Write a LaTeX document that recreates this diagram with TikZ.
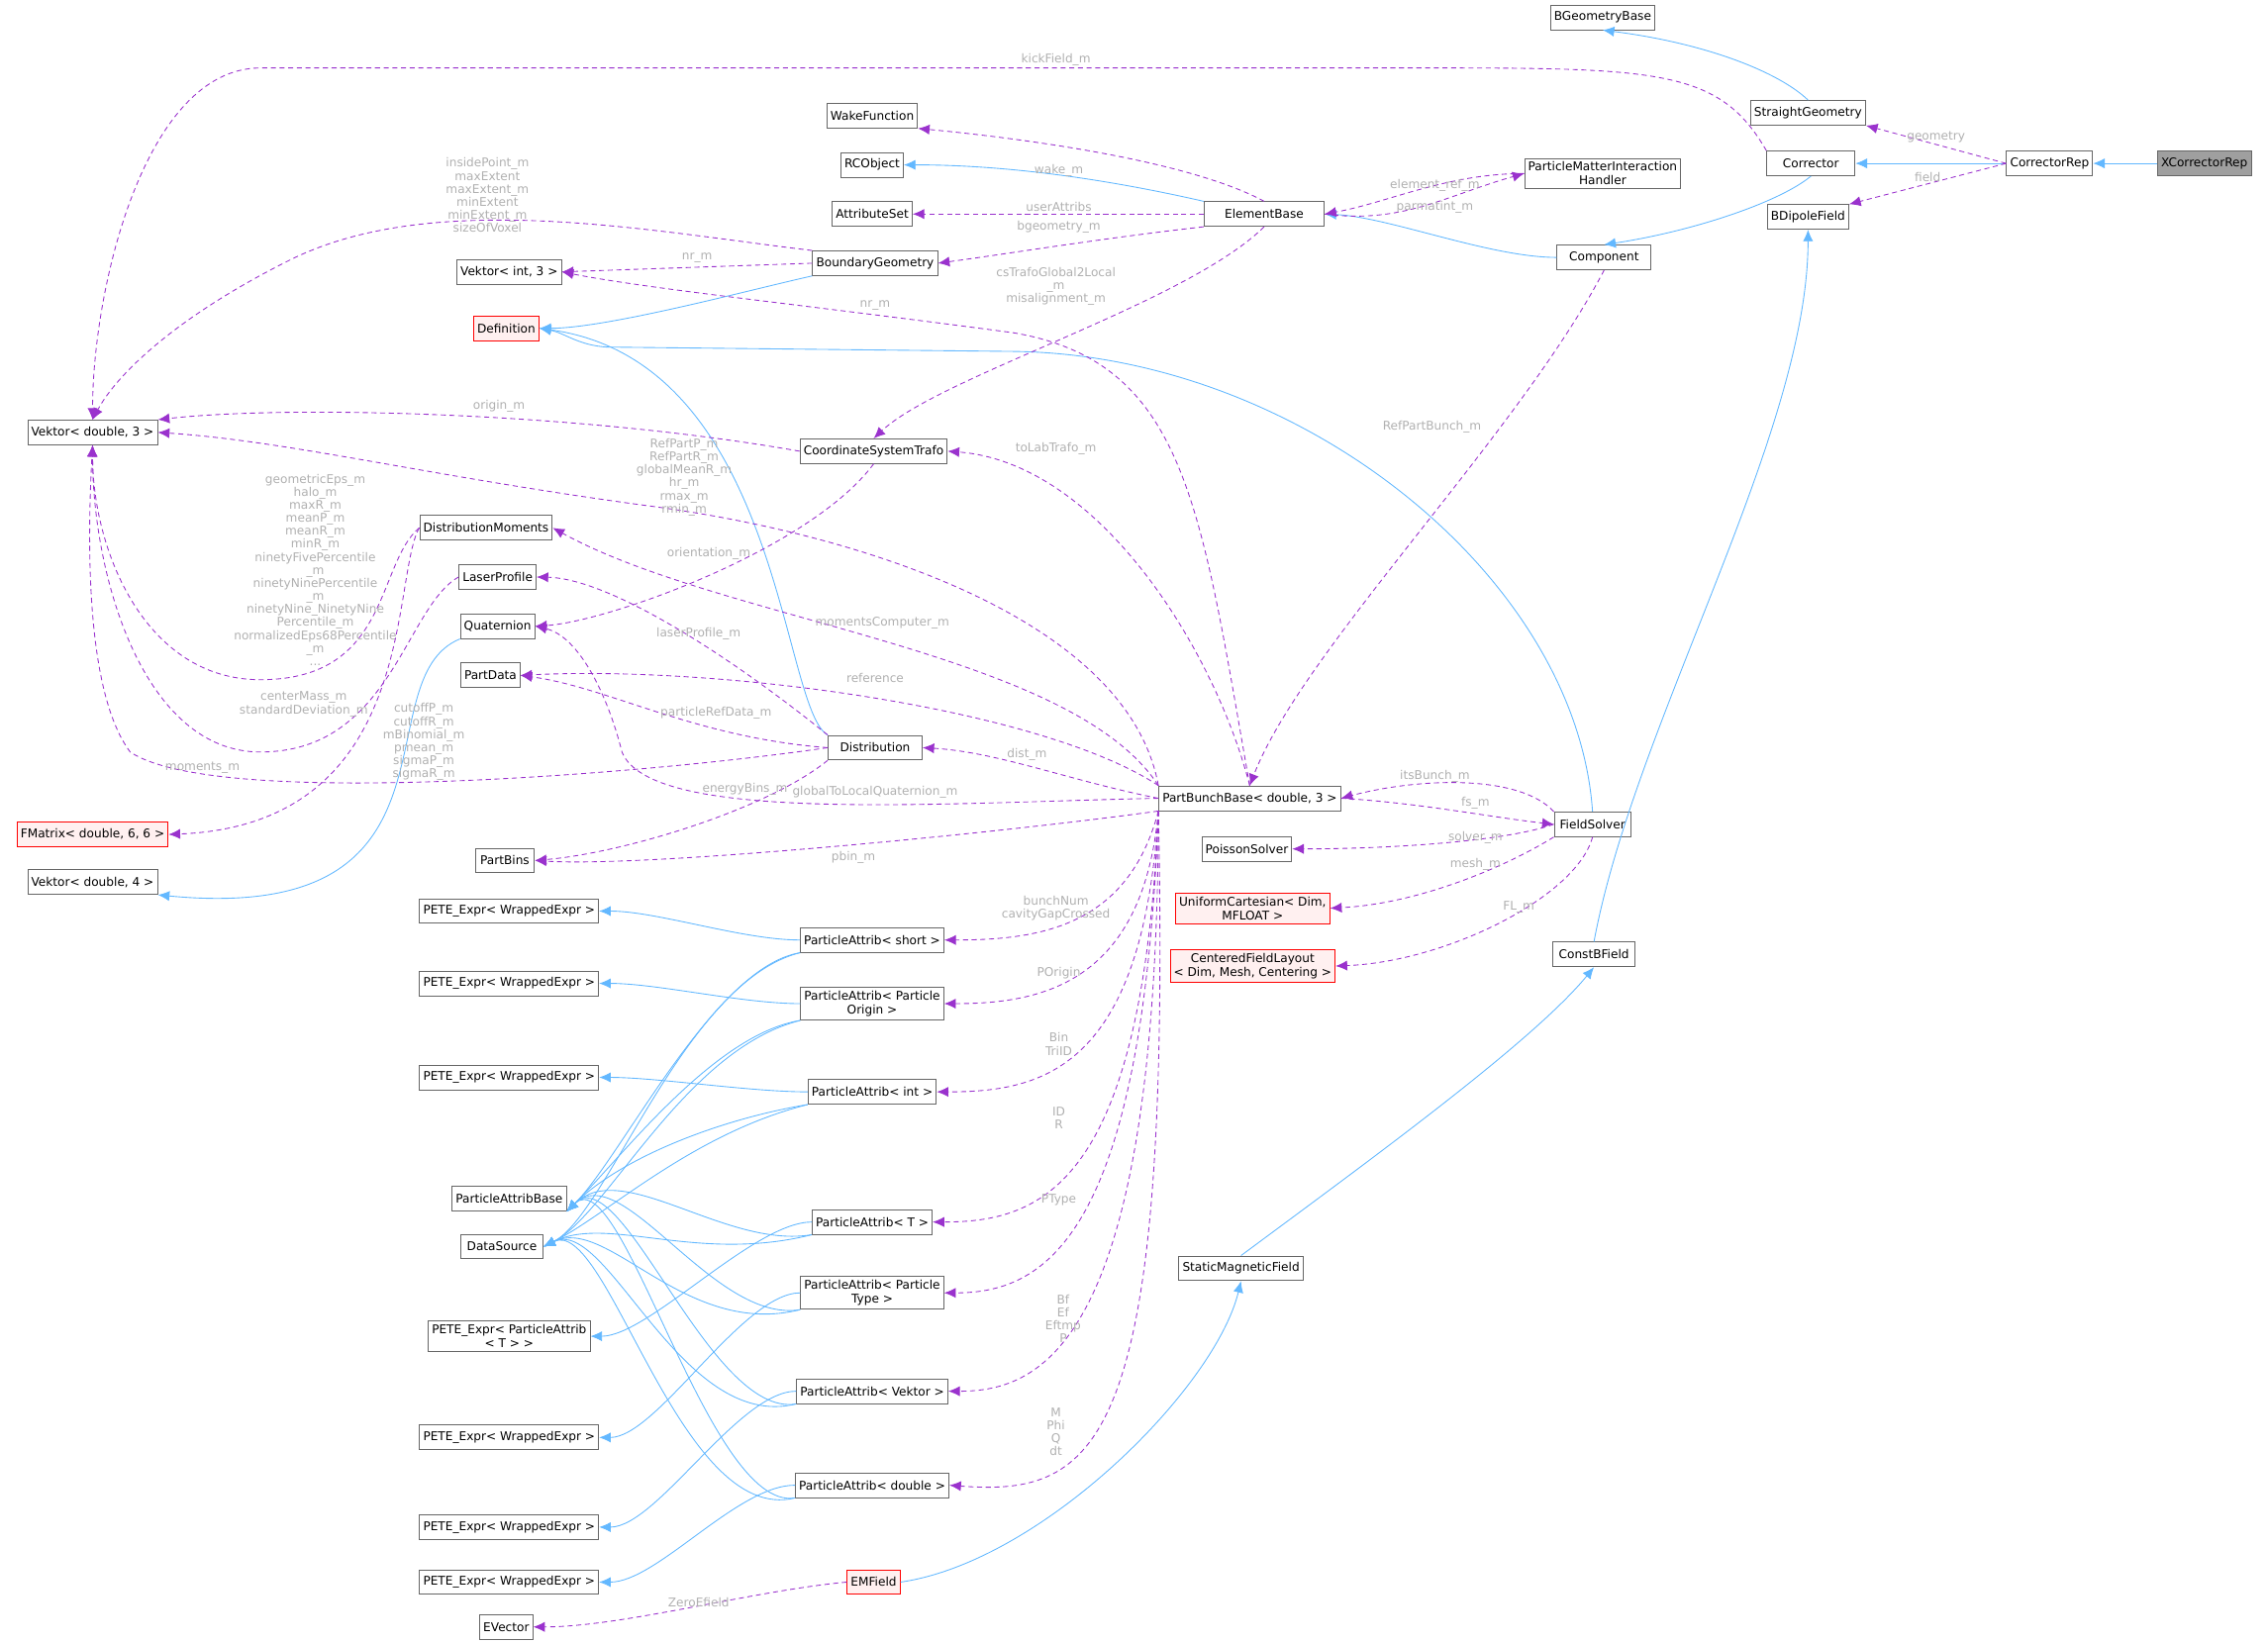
\documentclass[tikz,border=0pt]{standalone}
\usepackage{fontspec}
\setmainfont{DejaVu Sans}
\usetikzlibrary{arrows.meta,calc}
\definecolor{iblue}{HTML}{63B8FF}
\definecolor{mpurp}{HTML}{9A32CD}
\definecolor{lgray}{HTML}{B0B0B0}
\definecolor{bord}{HTML}{666666}
\tikzset{
 box/.style={draw=bord, fill=white, font=\fontsize{8.3}{9.6}\selectfont, inner sep=2.5pt, minimum height=17pt, align=center, line width=0.6pt},
 red/.style={box, draw=red, fill=red!6},
 inh/.style={draw=iblue, line width=0.6pt, -{Latex[length=8pt,width=7pt]}},
 mem/.style={draw=mpurp, line width=0.6pt, dashed, dash pattern=on 3.5pt off 2.5pt, -{Latex[length=8pt,width=7pt]}},
 lbl/.style={text=lgray, font=\fontsize{8.3}{9}\selectfont, align=center, inner sep=0pt},
}
\begin{document}
\begin{tikzpicture}[x=1pt,y=-1pt]
\useasboundingbox (0,0) rectangle (1568,1136);
% nodes
\node[box, fill=gray!75] (xcr) at (1524,113) {XCorrectorRep};
\node[box] (cr) at (1417,113) {CorrectorRep};
\node[box] (bgb) at (1108,12) {BGeometryBase};
\node[box] (sg) at (1250,78) {StraightGeometry};
\node[box, text width=56pt] (cor) at (1252,113) {Corrector};
\node[box] (bdf) at (1250,150) {BDipoleField};
\node[box] (pmi) at (1108,120) {ParticleMatterInteraction\\Handler};
\node[box] (wf) at (603,80) {WakeFunction};
\node[box] (rco) at (603,114) {RCObject};
\node[box] (as) at (603,148) {AttributeSet};
\node[box, text width=78pt] (eb) at (874,148) {ElementBase};
\node[box, text width=60pt] (comp) at (1109,178) {Component};
\node[box] (bg) at (605,182) {BoundaryGeometry};
\node[box] (vi3) at (352,188) {Vektor< int, 3 >};
\node[red] (def) at (350,227) {Definition};
\node[box] (v3) at (64,299) {Vektor< double, 3 >};
\node[box] (cst) at (604,312) {CoordinateSystemTrafo};
\node[box] (dm) at (336,365) {DistributionMoments};
\node[box] (lp) at (344,399) {LaserProfile};
\node[box] (quat) at (344,433) {Quaternion};
\node[box, text width=36pt] (pd) at (339,467) {PartData};
\node[box, text width=60pt] (dist) at (605,517) {Distribution};
\node[box] (pbb) at (864,552) {PartBunchBase< double, 3 >};
\node[box, text width=48pt] (fs) at (1101,570) {FieldSolver};
\node[red] (fm) at (64,577) {FMatrix< double, 6, 6 >};
\node[box, text width=36pt] (pb) at (349,595) {PartBins};
\node[box] (ps) at (862,587) {PoissonSolver};
\node[red] (uc) at (866,628) {UniformCartesian< Dim,\\ MFLOAT >};
\node[box] (v4) at (64,610) {Vektor< double, 4 >};
\node[box] (pe1) at (352,630) {PETE\_Expr< WrappedExpr >};
\node[box] (pas) at (603,650) {ParticleAttrib< short >};
\node[red] (cfl) at (866,668) {CenteredFieldLayout\\< Dim, Mesh, Centering >};
\node[box, text width=52pt] (cbf) at (1102,660) {ConstBField};
\node[box] (pe2) at (352,680) {PETE\_Expr< WrappedExpr >};
\node[box] (pao) at (603,694) {ParticleAttrib< Particle\\Origin >};
\node[box] (pe3) at (352,745) {PETE\_Expr< WrappedExpr >};
\node[box] (pai) at (603,755) {ParticleAttrib< int >};
\node[box] (pab) at (352,829) {ParticleAttribBase};
\node[box, text width=52pt] (ds) at (347,862) {DataSource};
\node[box] (pat) at (603,845) {ParticleAttrib< T >};
\node[box] (pay) at (603,894) {ParticleAttrib< Particle\\Type >};
\node[box] (smf) at (858,877) {StaticMagneticField};
\node[box] (pet) at (352,924) {PETE\_Expr< ParticleAttrib\\< T > >};
\node[box] (pav) at (603,962) {ParticleAttrib< Vektor >};
\node[box] (pe4) at (352,994) {PETE\_Expr< WrappedExpr >};
\node[box] (pad) at (603,1027) {ParticleAttrib< double >};
\node[box] (pe5) at (352,1056) {PETE\_Expr< WrappedExpr >};
\node[box] (pe6) at (352,1094) {PETE\_Expr< WrappedExpr >};
\node[red] (emf) at (604,1094) {EMField};
\node[box] (ev) at (350,1125) {EVector};

% inheritance
\draw[inh] (xcr) -- (cr);
\draw[inh] (cr) -- (cor);
\draw[inh] (sg.north) .. controls (1230,50) and (1180,30) .. (bgb.south);
\draw[inh] (cor.south) .. controls (1230,140) and (1170,160) .. (comp.north);
\draw[inh] (comp.west) .. controls (1030,178) and (960,150) .. (eb.east);
\draw[inh] (eb.north west) .. controls (770,125) and (700,114) .. (rco.east);
\draw[inh] (bg.south west) .. controls (520,200) and (420,227) .. (def.east);
\draw[inh] (dist.north west) .. controls (540,490) and (540,250) .. (def.east);
\draw[inh] (fs.north) .. controls (1090,400) and (900,245) .. (700,243) -- (420,240) .. controls (400,239) and (390,230) .. (def.east);
\draw[inh] (quat.south west) .. controls (250,470) and (330,640) .. (v4.south east);
\draw[inh] (cbf.north) .. controls (1130,500) and (1250,300) .. (bdf.south);
\draw[inh] (smf.north) .. controls (950,800) and (1060,720) .. (cbf.south);
\draw[inh] (emf.east) .. controls (720,1080) and (840,960) .. (smf.south);
% particle attribs
\foreach \a/\p in {pas/pe1,pao/pe2,pai/pe3,pat/pet,pay/pe4,pav/pe5,pad/pe6}{
 \draw[inh] (\a.west) .. controls ($(\a.west)+(-40,0)$) and ($(\p.east)+(40,0)$) .. (\p.east);
 \draw[inh] (\a.south west) .. controls ($(\a.south west)+(-60,10)$) and (430,800) .. (pab.south east);
 \draw[inh] (\a.south west) .. controls ($(\a.south west)+(-80,20)$) and (420,840) .. (ds.east);
}

% members
\draw[mem] (cr.west) -- (sg.south east) node[lbl, midway, above=1pt] (l1) {geometry};
\draw[mem] (cr.west) -- (bdf.north east) node[lbl, midway, above=1pt] (l2) {field};
\draw[mem] (cor.north west) .. controls (1190,50) and (1150,47) .. (1000,47) -- (180,47) .. controls (100,47) and (64,200) .. (v3.north);
\node[lbl] (l3) at (730,41) {kickField\_m};
\draw[mem] (eb.north) .. controls (820,110) and (700,95) .. (wf.south east);
\node[lbl] (l4) at (732,118) {wake\_m};
\draw[mem] (eb.west) -- (as.east); \node[lbl] (l5) at (732,143) {userAttribs};
\draw[mem] (eb.south west) .. controls (760,165) and (700,175) .. (bg.east); \node[lbl] (l6) at (732,157) {bgeometry\_m};
\draw[mem] (eb.east) .. controls (970,155) and (1000,135) .. (pmi.west); \node[lbl] (l7) at (992,143) {parmatint\_m};
\draw[mem] (pmi.west) .. controls (1000,120) and (960,140) .. (eb.east); \node[lbl] (l8) at (992,128) {element\_ref\_m};
\draw[mem] (eb.south) .. controls (820,210) and (650,260) .. (cst.north);
\node[lbl] (l9) at (730,198) {csTrafoGlobal2Local\\\_m\\misalignment\_m};
\draw[mem] (bg.west) -- (vi3.east); \node[lbl] (l10) at (482,178) {nr\_m};
\draw[mem] (bg.north west) .. controls (450,160) and (300,130) .. (200,180) .. controls (120,220) and (80,260) .. (v3.north);
\node[lbl] (l11) at (337,135) {insidePoint\_m\\maxExtent\\maxExtent\_m\\minExtent\\minExtent\_m\\sizeOfVoxel};
\draw[mem] (cst.west) .. controls (400,285) and (200,280) .. (v3.north east); \node[lbl] (l12) at (345,281) {origin\_m};
\draw[mem] (cst.south) .. controls (560,380) and (420,430) .. (quat.east); \node[lbl] (l13) at (490,383) {orientation\_m};
\draw[mem] (comp.south) .. controls (1050,300) and (900,450) .. (pbb.north); \node[lbl] (l14) at (990,295) {RefPartBunch\_m};
\draw[mem] (pbb.north) .. controls (830,350) and (820,250) .. (700,230) .. controls (550,210) and (450,200) .. (vi3.east); \node[lbl] (l15) at (605,211) {nr\_m};
\draw[mem] (pbb.north) .. controls (840,450) and (760,320) .. (cst.east); \node[lbl] (l16) at (730,310) {toLabTrafo\_m};
\draw[mem] (pbb.north west) .. controls (780,430) and (600,370) .. (450,350) .. controls (300,330) and (200,305) .. (v3.east);
\node[lbl] (l17) at (473,330) {RefPartP\_m\\RefPartR\_m\\globalMeanR\_m\\hr\_m\\rmax\_m\\rmin\_m};
\draw[mem] (pbb.north west) .. controls (740,450) and (500,430) .. (dm.east); \node[lbl] (l18) at (610,431) {momentsComputer\_m};
\draw[mem] (pbb.north west) .. controls (720,490) and (500,460) .. (pd.east); \node[lbl] (l19) at (605,469) {reference};
\draw[mem] (pbb.west) .. controls (650,555) and (450,570) .. (430,520) .. controls (420,480) and (400,440) .. (quat.east); \node[lbl] (l20) at (605,548) {globalToLocalQuaternion\_m};
\draw[mem] (pbb.west) .. controls (740,540) and (690,520) .. (dist.east); \node[lbl] (l21) at (710,522) {dist\_m};
\draw[mem] (pbb.east) .. controls (980,555) and (1030,565) .. (fs.west); \node[lbl] (l22) at (1020,555) {fs\_m};
\draw[mem] (fs.north west) .. controls (1050,535) and (980,538) .. (pbb.east); \node[lbl] (l23) at (992,537) {itsBunch\_m};
\draw[mem] (pbb.south west) .. controls (700,575) and (450,600) .. (pb.east); \node[lbl] (l24) at (590,593) {pbin\_m};
\draw[mem] (dist.north west) .. controls (500,450) and (420,400) .. (lp.east); \node[lbl] (l25) at (483,438) {laserProfile\_m};
\draw[mem] (dist.west) .. controls (480,510) and (420,475) .. (pd.east); \node[lbl] (l26) at (495,493) {particleRefData\_m};
\draw[mem] (dist.south west) .. controls (530,560) and (430,590) .. (pb.east); \node[lbl] (l27) at (515,546) {energyBins\_m};
\draw[mem] (dist.west) .. controls (450,535) and (150,560) .. (90,520) .. controls (60,480) and (60,380) .. (v3.south);
\node[lbl] (l28) at (293,513) {cutoffP\_m\\cutoffR\_m\\mBinomial\_m\\pmean\_m\\sigmaP\_m\\sigmaR\_m};
\draw[mem] (dm.west) .. controls (260,390) and (270,470) .. (180,470) .. controls (100,470) and (64,380) .. (v3.south);
\node[lbl] (l29) at (218,394) {geometricEps\_m\\halo\_m\\maxR\_m\\meanP\_m\\meanR\_m\\minR\_m\\ninetyFivePercentile\\\_m\\ninetyNinePercentile\\\_m\\ninetyNine\_NinetyNine\\Percentile\_m\\normalizedEps68Percentile\\\_m\\...};
\draw[mem] (lp.west) .. controls (280,420) and (270,520) .. (180,520) .. controls (100,520) and (64,400) .. (v3.south);
\node[lbl] (l30) at (210,487) {centerMass\_m\\standardDeviation\_m};
\draw[mem] (dm.west) .. controls (270,400) and (290,570) .. (fm.east); \node[lbl] (l31) at (140,531) {moments\_m};
\draw[mem] (fs.west) .. controls (1040,582) and (960,587) .. (ps.east); \node[lbl] (l32) at (1020,579) {solver\_m};
\draw[mem] (fs.south west) .. controls (1040,600) and (980,625) .. (uc.east); \node[lbl] (l33) at (1020,598) {mesh\_m};
\draw[mem] (fs.south) .. controls (1090,620) and (1000,665) .. (cfl.east); \node[lbl] (l34) at (1050,627) {FL\_m};
\draw[mem] (pbb.south west) .. controls (780,640) and (720,650) .. (pas.east); \node[lbl] (l35) at (730,628) {bunchNum\\cavityGapCrossed};
\draw[mem] (pbb.south west) .. controls (790,680) and (720,694) .. (pao.east); \node[lbl] (l36) at (732,673) {POrigin};
\draw[mem] (pbb.south west) .. controls (790,740) and (720,755) .. (pai.east); \node[lbl] (l37) at (732,722) {Bin\\TriID};
\draw[mem] (pbb.south west) .. controls (790,820) and (720,845) .. (pat.east); \node[lbl] (l38) at (732,773) {ID\\R};
\draw[mem] (pbb.south west) .. controls (790,860) and (720,894) .. (pay.east); \node[lbl] (l39) at (732,830) {PType};
\draw[mem] (pbb.south west) .. controls (800,930) and (720,962) .. (pav.east); \node[lbl] (l40) at (735,912) {Bf\\Ef\\Eftmp\\P};
\draw[mem] (pbb.south west) .. controls (810,1000) and (760,1035) .. (pad.east); \node[lbl] (l41) at (730,990) {M\\Phi\\Q\\dt};
\draw[mem] (emf.west) .. controls (520,1100) and (430,1125) .. (ev.east); \node[lbl] (l42) at (483,1108) {ZeroEfield};
\end{tikzpicture}
\end{document}
